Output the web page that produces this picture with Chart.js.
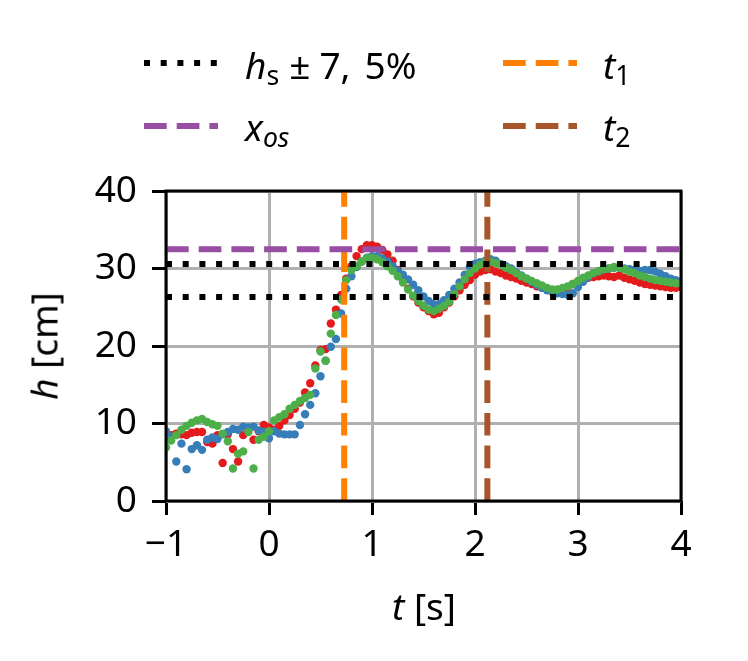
<!DOCTYPE html>
<html>
<head>
<meta charset="utf-8">
<script src="https://cdn.jsdelivr.net/npm/chart.js@4.4.1/dist/chart.umd.min.js"></script>
<style>
  html, body { margin: 0; padding: 0; background: #fff; }
  #wrap { position: relative; width: 748px; height: 661px; font-family: 'Noto Sans', sans-serif; color: #000; }
  #chart { position: absolute; left: 0; top: 0; }
  .txt { position: absolute; white-space: nowrap; }
  .leg { font-size: 37px; line-height: 37px; }
  .ax { font-size: 37px; line-height: 37px; }
  .sub { font-size: 0.72em; position: relative; top: 0.22em; }
  .op { display: inline-block; margin: 0 9px 0 10px; }
  i { font-style: italic; }
  svg { position: absolute; overflow: visible; }
</style>
</head>
<body>
<div id="wrap">
  <canvas id="chart" width="748" height="661"></canvas>

  <!-- legend, two columns like the original -->
  <svg style="left:0;top:0" width="748" height="180">
    <line x1="144" y1="63" x2="218" y2="63" stroke="#000" stroke-width="6" stroke-dasharray="6 10.7" />
    <line x1="144" y1="126" x2="218" y2="126" stroke="#984ea3" stroke-width="6" stroke-dasharray="22.7 10" />
    <line x1="503" y1="63" x2="577" y2="63" stroke="#ff7f00" stroke-width="6" stroke-dasharray="22.7 10" />
    <line x1="503" y1="126" x2="577" y2="126" stroke="#a65628" stroke-width="6" stroke-dasharray="22.7 10" />
  </svg>
  <div class="txt leg" style="left:245px;top:46px"><i>h</i><span class="sub">s</span><span class="op">±</span>7,<span style="margin-left:14px">5%</span></div>
  <div class="txt leg" style="left:245px;top:108px"><i>x</i><span class="sub"><i>os</i></span></div>
  <div class="txt leg" style="left:603px;top:46px"><i>t</i><span class="sub">1</span></div>
  <div class="txt leg" style="left:603px;top:108px"><i>t</i><span class="sub">2</span></div>

  <!-- axis titles -->
  <div class="txt ax" style="left:424px;top:605px;transform:translate(-50%,-50%)"><i>t</i> [s]</div>
  <div class="txt ax" style="left:43px;top:346px;transform:translate(-50%,-50%) rotate(-90deg)"><i>h</i> [cm]</div>
</div>

<script>
// sample times [s]
const times = [
  -1.00, -0.95, -0.90, -0.85, -0.80, -0.75, -0.70, -0.65, -0.60, -0.55,
  -0.50, -0.45, -0.40, -0.35, -0.30, -0.25, -0.20, -0.15, -0.10, -0.05,
  0.00, 0.05, 0.10, 0.15, 0.20, 0.25, 0.30, 0.35, 0.40, 0.45,
  0.50, 0.55, 0.60, 0.65, 0.70, 0.75, 0.80, 0.85, 0.90, 0.95,
  1.00, 1.05, 1.10, 1.15, 1.20, 1.25, 1.30, 1.35, 1.40, 1.45,
  1.50, 1.55, 1.60, 1.65, 1.70, 1.75, 1.80, 1.85, 1.90, 1.95,
  2.00, 2.05, 2.10, 2.15, 2.20, 2.25, 2.30, 2.35, 2.40, 2.45,
  2.50, 2.55, 2.60, 2.65, 2.70, 2.75, 2.80, 2.85, 2.90, 2.95,
  3.00, 3.05, 3.10, 3.15, 3.20, 3.25, 3.30, 3.35, 3.40, 3.45,
  3.50, 3.55, 3.60, 3.65, 3.70, 3.75, 3.80, 3.85, 3.90, 3.95,
  4.00
]

// measured level h [cm], three runs
const runRed = [
  8.3, 8.5, 8.7, 8.6, 8.5, 8.8, 8.9, 8.9, 7.6, 7.4,
  8.5, 4.9, 8.6, 6.7, 5.1, 8.5, 9.2, 7.9, 9.0, 9.8,
  9.5, 9.2, 9.7, 10.4, 11.1, 11.9, 12.7, 14.0, 15.2, 17.5,
  19.5, 19.6, 22.9, 24.7, 26.6, 28.7, 30.3, 31.6, 32.5, 33.0,
  33.0, 32.8, 32.4, 31.8, 31.0, 29.8, 28.6, 27.4, 26.4, 25.6,
  25.0, 24.5, 24.1, 24.3, 25.0, 25.6, 26.4, 27.2, 27.9, 28.5,
  29.2, 29.6, 29.8, 29.9, 29.6, 29.4, 29.1, 28.9, 28.7, 28.4,
  28.2, 28.0, 27.7, 27.5, 27.4, 27.2, 27.2, 27.4, 27.6, 28.0,
  28.3, 28.6, 28.8, 28.9, 29.0, 29.1, 29.0, 28.9, 29.1, 28.8,
  28.6, 28.4, 28.2, 28.0, 27.9, 27.8, 27.7, 27.6, 27.5, 27.5,
  27.6
]
const runBlue = [
  9.0, 8.3, 5.1, 7.4, 4.1, 6.7, 7.2, 6.6, 7.9, 8.2,
  8.0, 8.6, 8.9, 9.3, 9.2, 9.6, 9.5, 9.6, 9.1, 8.9,
  8.1, 9.0, 8.7, 8.6, 8.6, 8.6, 9.8, 11.2, 12.4, 13.9,
  16.1, 18.1, 19.9, 20.9, 24.2, 27.4, 29.0, 30.2, 30.9, 31.4,
  31.6, 31.6, 31.3, 30.9, 30.3, 29.7, 29.2, 28.6, 27.9, 27.2,
  26.4, 25.8, 25.4, 25.4, 25.9, 26.6, 27.4, 28.2, 29.2, 30.2,
  30.6, 30.8, 31.0, 31.2, 31.0, 30.6, 30.3, 30.0, 29.5, 29.1,
  28.7, 28.3, 27.9, 27.5, 27.2, 27.0, 26.8, 26.7, 26.6, 26.8,
  27.6, 28.3, 28.9, 29.4, 29.6, 29.9, 30.0, 30.1, 30.2, 30.0,
  29.9, 29.8, 29.7, 29.8, 29.8, 29.6, 29.3, 29.0, 28.7, 28.5,
  28.3
]
const runGreen = [
  6.9, 7.8, 8.5, 9.2, 9.7, 10.1, 10.4, 10.6, 10.2, 9.9,
  9.7, 8.7, 7.7, 4.2, 6.1, 6.4, 8.9, 4.2, 7.9, 8.3,
  9.0, 10.4, 10.8, 11.2, 11.9, 12.4, 12.9, 13.3, 13.7, 17.1,
  19.3, 18.1, 21.6, 24.0, 26.0, 28.5, 29.8, 30.3, 30.9, 31.3,
  31.4, 31.2, 30.8, 30.3, 29.7, 29.0, 28.2, 27.3, 26.5, 25.8,
  25.2, 24.7, 24.5, 24.8, 25.2, 25.7, 26.7, 27.7, 28.6, 29.4,
  30.0, 30.5, 30.9, 30.9, 30.7, 30.5, 30.1, 29.8, 29.4, 29.0,
  28.7, 28.4, 28.1, 27.8, 27.5, 27.3, 27.3, 27.5, 27.7, 28.0,
  28.4, 28.8, 29.1, 29.4, 29.7, 29.9, 30.0, 30.2, 30.1, 29.9,
  29.6, 29.4, 29.1, 28.9, 28.7, 28.5, 28.4, 28.3, 28.2, 28.1,
  28.1
]

// reference levels and times
const hSteady = 28.45
const band = 0.075
const xOvershoot = 32.5
const t1 = 0.73
const t2 = 2.12

const xTicks = [-1, 0, 1, 2, 3, 4]
const yTicks = [0, 10, 20, 30, 40]

const toPoints = (ys) => times.map((t, i) => ({ x: t, y: ys[i] }))

function hLine(y, color, dash) {
  return {
    type: 'scatter',
    data: [{ x: xTicks[0], y: y }, { x: xTicks[xTicks.length - 1], y: y }],
    showLine: true,
    borderColor: color,
    borderWidth: 6,
    borderDash: dash,
    pointRadius: 0,
    order: 0
  }
}
function vLine(x, color) {
  return {
    type: 'scatter',
    data: [{ x: x, y: yTicks[0] }, { x: x, y: yTicks[yTicks.length - 1] }],
    showLine: true,
    borderColor: color,
    borderWidth: 6,
    borderDash: [22.7, 10],
    pointRadius: 0,
    order: 0
  }
}
function run(ys, color, order) {
  return {
    type: 'scatter',
    data: toPoints(ys),
    backgroundColor: color,
    borderWidth: 0,
    pointRadius: 4.2,
    order: order
  }
}

const dotted = [6, 10.7]
const dashed = [22.7, 10]

// spines on top of everything, like matplotlib
const frame = {
  id: 'frame',
  afterDatasetsDraw(chart) {
    const a = chart.chartArea
    const c = chart.ctx
    c.save()
    c.strokeStyle = '#000'
    c.lineWidth = 3
    c.strokeRect(a.left, a.top, a.right - a.left, a.bottom - a.top)
    c.restore()
  }
}

const tickFont = { family: 'Noto Sans', size: 37 }

new Chart(document.getElementById('chart'), {
  type: 'scatter',
  data: {
    datasets: [
      run(runRed, '#e41a1c', 3),
      run(runBlue, '#377eb8', 2),
      run(runGreen, '#4daf4a', 1),
      hLine(hSteady * (1 + band), '#000', dotted),
      hLine(hSteady * (1 - band), '#000', dotted),
      hLine(xOvershoot, '#984ea3', dashed),
      vLine(t1, '#ff7f00'),
      vLine(t2, '#a65628')
    ]
  },
  options: {
    responsive: false,
    devicePixelRatio: 1,
    animation: false,
    layout: { padding: { top: 191, right: 67, left: 0, bottom: 0 } },
    plugins: { legend: { display: false }, tooltip: { enabled: false } },
    scales: {
      x: {
        type: 'linear',
        min: -1,
        max: 4,
        afterBuildTicks: (s) => { s.ticks = xTicks.map((v) => ({ value: v })) },
        afterFit: (s) => { s.height = 160 },
        ticks: {
          font: tickFont,
          color: '#000',
          padding: 8,
          maxRotation: 0,
          callback: (v) => String(v).replace('-', '\u2212')
        },
        grid: { color: '#b0b0b0', lineWidth: 3, tickColor: '#000', tickLength: 14, tickWidth: 3 },
        border: { display: false }
      },
      y: {
        min: 0,
        max: 40,
        afterBuildTicks: (s) => { s.ticks = yTicks.map((v) => ({ value: v })) },
        afterFit: (s) => { s.width = 166 },
        ticks: { font: tickFont, color: '#000', padding: 15 },
        grid: { color: '#b0b0b0', lineWidth: 3, tickColor: '#000', tickLength: 14, tickWidth: 3 },
        border: { display: false }
      }
    }
  },
  plugins: [frame]
})
</script>
</body>
</html>
